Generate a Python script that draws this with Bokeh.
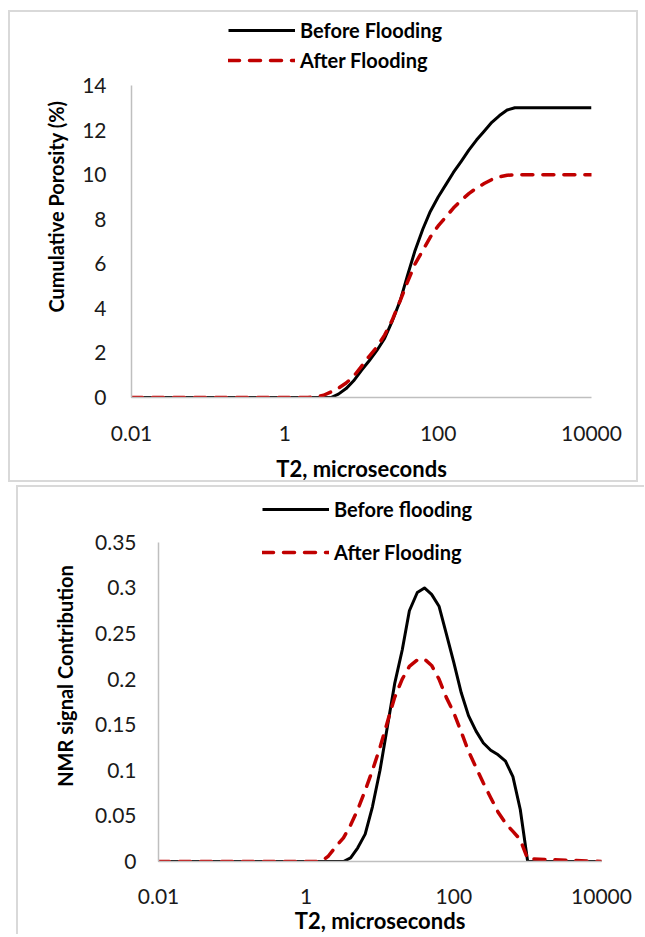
from bokeh.plotting import figure
from bokeh.models import Legend, LegendItem, FixedTicker, NumeralTickFormatter, Range1d
from bokeh.embed import file_html
from bokeh.resources import INLINE

FONT = "Lato"

# T2 relaxation times (microseconds)
t2 = [0.01, 0.1, 1, 1.6,
      2.0, 2.5, 3.2, 4.0, 5.0, 6.3, 7.9,
      10, 12.6, 15.8, 20, 25, 32, 40, 50, 63, 79, 100, 126, 158, 200, 251,
      316, 398, 501, 631, 794, 1000,
      10000]

# Cumulative porosity (%)
cum_before = [0, 0, 0, 0,
              0, 0, 0, 0, 0.15, 0.4, 0.75,
              1.22, 1.65, 2.1, 2.65, 3.4, 4.35, 5.5, 6.6, 7.55, 8.35, 9.0, 9.55,
              10.1, 10.6, 11.1, 11.55, 11.95, 12.35, 12.65, 12.9, 13.0,
              13.0]
cum_after = [0, 0, 0, 0,
             0, 0.02, 0.1, 0.25, 0.42, 0.65, 0.95,
             1.4, 1.85, 2.25, 2.8, 3.45, 4.35, 5.2, 6.0, 6.6, 7.2, 7.7, 8.1,
             8.5, 8.85, 9.15, 9.4, 9.6, 9.78, 9.9, 9.97, 10.0,
             10.0]

# NMR signal contribution
nmr_before = [0, 0, 0, 0,
              0, 0, 0, 0.004, 0.015, 0.03, 0.06,
              0.1, 0.148, 0.195, 0.232, 0.275, 0.295, 0.300, 0.293, 0.28, 0.25,
              0.218, 0.185, 0.16, 0.143, 0.13, 0.122, 0.117, 0.11, 0.093, 0.057, 0,
              0]
nmr_after = [0, 0, 0, 0,
             0.006, 0.016, 0.026, 0.04, 0.057, 0.078, 0.1,
             0.125, 0.153, 0.18, 0.2, 0.214, 0.221, 0.222, 0.215, 0.2, 0.18,
             0.163, 0.142, 0.121, 0.103, 0.086, 0.07, 0.054, 0.042, 0.033, 0.024,
             0.003,
             0]

x_ticks = [0.01, 1, 100, 10000]
x_tick_labels = {0.01: "0.01", 1: "1", 100: "100", 10000: "10000"}
top_y_ticks = [0, 2, 4, 6, 8, 10, 12, 14]
top_y_max = 14
bot_y_ticks = [0, 0.05, 0.1, 0.15, 0.2, 0.25, 0.3, 0.35]
bot_y_max = 0.35

GRID = "#d9d9d9"
AXIS = "#bfbfbf"
RED = "#c00000"


def style(p, xlabel, ylabel, y_ticks, y_max, lab_x, lab_y, ttl_x, ttl_y):
    p.outline_line_color = None
    p.xgrid.visible = False
    p.ygrid.visible = False
    p.xaxis.ticker = FixedTicker(ticks=x_ticks)
    p.xaxis.major_label_overrides = x_tick_labels
    p.yaxis.ticker = FixedTicker(ticks=y_ticks)
    p.yaxis.bounds = (0, y_max)
    for ax in (p.xaxis[0], p.yaxis[0]):
        ax.axis_line_color = AXIS
        ax.axis_line_width = 1.5
        ax.major_tick_line_color = None
        ax.minor_tick_line_color = None
        ax.major_tick_out = 0
        ax.major_tick_in = 0
        ax.major_label_text_font = FONT
        ax.major_label_text_font_size = "21px"
        ax.major_label_text_color = "#1a1a1a"
        ax.axis_label_text_font = FONT
        ax.axis_label_text_font_style = "bold"
        ax.axis_label_text_color = "#000000"
    p.xaxis.axis_label_text_font_size = "22px"
    p.yaxis.axis_label_text_font_size = "20px"
    p.xaxis.major_label_standoff = lab_x
    p.yaxis.major_label_standoff = lab_y
    p.xaxis.axis_label = xlabel
    p.yaxis.axis_label = ylabel
    p.xaxis.axis_label_standoff = ttl_x
    p.yaxis.axis_label_standoff = ttl_y


def add_lines(p, xs, yb, ya, lab_b, lab_a, loc, spacing):
    rb = p.line(xs, yb, line_color="black", line_width=3, line_join="round")
    ra = p.line(xs, ya, line_color=RED, line_width=3.5, line_dash="11 10",
                line_cap="round", line_join="round")
    leg = Legend(items=[LegendItem(label=lab_b, renderers=[rb]),
                        LegendItem(label=lab_a, renderers=[ra])],
                 location=loc, orientation="vertical", padding=0, margin=0,
                 spacing=spacing, glyph_width=67, glyph_height=24,
                 label_height=24, label_standoff=5,
                 label_text_font=FONT, label_text_font_style="bold",
                 label_text_font_size="20px", label_text_color="#000000",
                 border_line_color=None, background_fill_alpha=0)
    p.add_layout(leg, "center")


# ---- top chart ----
# frame extends above the data so the legend (inside the frame) is not clipped
p1 = figure(width=630, height=472, x_axis_type="log",
            x_range=Range1d(0.01, 10000),
            y_range=Range1d(0, top_y_max * 382 / 312),
            output_backend="svg", toolbar_location=None,
            min_border_left=121, min_border_right=49, min_border_top=3,
            min_border_bottom=83)
style(p1, "T2, microseconds", "Cumulative Porosity (%)", top_y_ticks, top_y_max,
      28, 25, 11, 11)
add_lines(p1, t2, cum_before, cum_after, "Before Flooding", "After Flooding",
          (97, 325), 6)
p1.styles = {"border": "2px solid " + GRID}
p1.margin = (10, 0, 0, 8)

# ---- bottom chart ----
p2 = figure(width=628, height=449, x_axis_type="log",
            x_range=Range1d(0.01, 10000),
            y_range=Range1d(0, bot_y_max * 372 / 320),
            output_backend="svg", toolbar_location=None,
            min_border_left=140, min_border_right=45, min_border_top=3,
            min_border_bottom=72)
style(p2, "T2, microseconds", "NMR signal Contribution", bot_y_ticks, bot_y_max,
      27, 22, 0, 15)
p2.yaxis.formatter = NumeralTickFormatter(format="0.[00]")
add_lines(p2, t2, nmr_before, nmr_after, "Before flooding", "After Flooding",
          (104, 297), 19)
p2.styles = {"border-left": "2px solid " + GRID, "border-top": "2px solid " + GRID}
p2.margin = (3, 0, 0, 16)

open("out.html", "w").write(file_html([p1, p2], INLINE))
